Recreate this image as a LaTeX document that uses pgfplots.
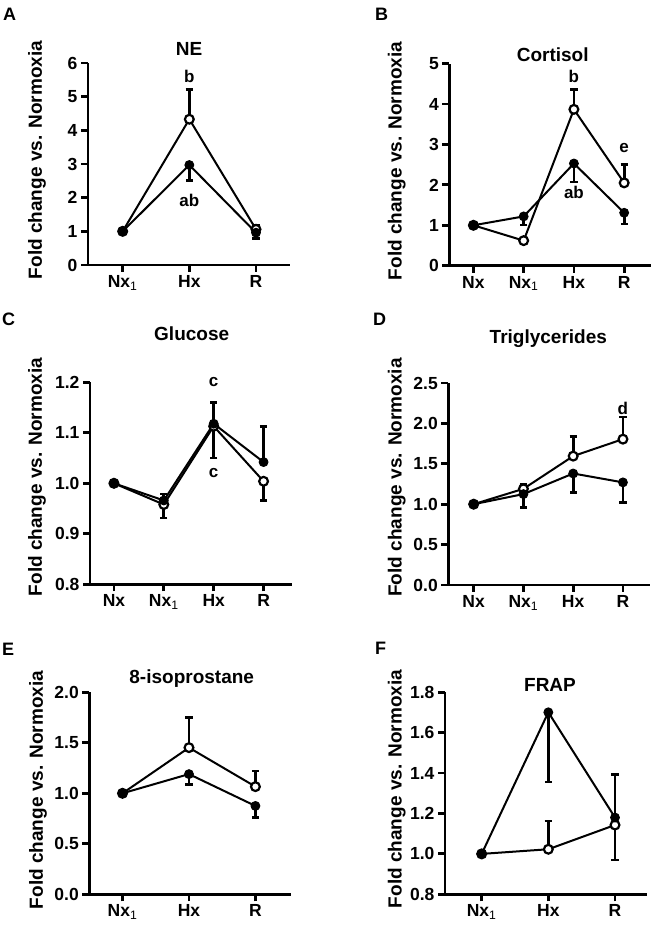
\documentclass[border=0pt]{standalone}
\usepackage{fontspec}
\setmainfont{Liberation Sans}
\usepackage{pgfplots}
\pgfplotsset{compat=1.18}

\newcommand{\tk}{\fontsize{17.5}{19}\selectfont\bfseries}
\newcommand{\NxI}{Nx\textsubscript{\mdseries 1}}

\pgfplotsset{
  panel/.style={
    scale only axis, width=202pt, height=202pt, anchor=south west,
    axis x line*=bottom, axis y line*=left,
    axis line style={line width=2.8pt},
    every tick/.style={line width=2.8pt, black},
    tick align=outside, major tick length=7pt,
    minor tick num=0, clip=false,
    ticklabel style={font=\tk},
    /pgf/number format/assume math mode=true,
  },
  onedec/.style={yticklabel style={/pgf/number format/.cd, fixed, fixed zerofill, precision=1}},
  three/.style={xtick={0,1,2}, xticklabels={\NxI,Hx,R}},
  four/.style={xtick={0,1,2,3}, xticklabels={Nx,\NxI,Hx,R}},
  ser/.style={black, line width=2pt, mark=*, mark size=4.4pt,
    error bars/y dir=both, error bars/y explicit,
    error bars/error bar style={line width=2.7pt},
    error bars/error mark options={rotate=90, mark size=3.6pt, line width=2.7pt, black}},
  op/.style={ser, mark options={fill=white, line width=2.2pt}},
  fi/.style={ser, mark options={fill=black, line width=1pt}},
}
\tikzset{lab/.style={font=\fontsize{17}{19}\selectfont\bfseries}}

\begin{document}
\begin{tikzpicture}[x=1pt,y=1pt]
\useasboundingbox (0,0) rectangle (653,927);

% A: NE
\begin{axis}[panel, three, at={(88pt,662pt)}, xmin=-0.52, xmax=2.51, ymin=0, ymax=6, ytick={0,1,...,6}]
\addplot[op] coordinates {(0,1) (1,4.33) += (0,0.88) -= (0,0) (2,1.06) += (0,0.12) -= (0,0)};
\addplot[fi] coordinates {(0,1) (1,2.97) += (0,0) -= (0,0.45) (2,0.96) += (0,0) -= (0,0.17)};
\node[lab] at (axis cs:1,5.6) {b};
\node[lab] at (axis cs:1,1.93) {ab};
\end{axis}

% B: Cortisol
\begin{axis}[panel, four, at={(449.3pt,661.3pt)}, xmin=-0.48, xmax=3.54, ymin=0, ymax=5, ytick={0,1,...,5}]
\addplot[op] coordinates {(0,1) (1,0.62) (2,3.87) += (0,0.49) -= (0,0) (3,2.05) += (0,0.46) -= (0,0)};
\addplot[fi] coordinates {(0,1) (1,1.22) += (0,0) -= (0,0.21) (2,2.53) += (0,0) -= (0,0.46) (3,1.31) += (0,0) -= (0,0.28)};
\node[lab] at (axis cs:2,4.68) {b};
\node[lab] at (axis cs:2,1.81) {ab};
\node[lab] at (axis cs:3,2.91) {e};
\end{axis}

% C: Glucose
\begin{axis}[panel, four, onedec, at={(90pt,342.7pt)}, xmin=-0.48, xmax=3.57, ymin=0.8, ymax=1.2, ytick={0.8,0.9,...,1.21}]
\addplot[op] coordinates {(0,1) (1,0.958) += (0,0) -= (0,0.027) (2,1.113) += (0,0) -= (0,0.063) (3,1.004) += (0,0) -= (0,0.038)};
\addplot[fi] coordinates {(0,1) (1,0.966) += (0,0.013) -= (0,0) (2,1.118) += (0,0.042) -= (0,0) (3,1.042) += (0,0.071) -= (0,0)};
\node[lab] at (axis cs:2,1.2) {c};
\node[lab] at (axis cs:2,1.02) {c};
\end{axis}

% D: Triglycerides
\begin{axis}[panel, four, onedec, at={(448.3pt,342pt)}, xmin=-0.51, xmax=3.55, ymin=0, ymax=2.5, ytick={0,0.5,...,2.5}]
\addplot[op] coordinates {(0,1) (1,1.19) += (0,0.06) -= (0,0) (2,1.595) += (0,0.24) -= (0,0) (3,1.805) += (0,0.275) -= (0,0)};
\addplot[fi] coordinates {(0,1) (1,1.125) += (0,0) -= (0,0.165) (2,1.38) += (0,0) -= (0,0.235) (3,1.27) += (0,0) -= (0,0.25)};
\node[lab] at (axis cs:3,2.18) {d};
\end{axis}

% E: 8-isoprostane
\begin{axis}[panel, three, onedec, at={(89.3pt,32.7pt)}, xmin=-0.5, xmax=2.54, ymin=0, ymax=2, ytick={0,0.5,...,2}]
\addplot[op] coordinates {(0,1) (1,1.452) += (0,0.30) -= (0,0) (2,1.066) += (0,0.155) -= (0,0)};
\addplot[fi] coordinates {(0,1) (1,1.19) += (0,0) -= (0,0.10) (2,0.875) += (0,0) -= (0,0.116)};
\end{axis}

% F: FRAP
\begin{axis}[panel, three, onedec, at={(445pt,32.7pt)}, xmin=-0.55, xmax=2.48, ymin=0.8, ymax=1.8, ytick={0.8,1.0,...,1.81}]
\addplot[op] coordinates {(0,1) (1,1.023) += (0,0.14) -= (0,0) (2,1.143) += (0,0) -= (0,0.173)};
\addplot[fi] coordinates {(0,1) (1,1.701) += (0,0) -= (0,0.345) (2,1.18) += (0,0.214) -= (0,0)};
\end{axis}

% titles and y labels
\begin{scope}[every node/.style={font=\fontsize{19}{21}\selectfont\bfseries}]
\node at (189,878) {NE};
\node at (552.7,872) {Cortisol};
\node at (191.7,593.7) {Glucose};
\node at (548.3,588.7) {Triglycerides};
\node at (191.7,248.7) {8-isoprostane};
\node at (550,242) {FRAP};
\node[rotate=90] at (37,767) {Fold change vs. Normoxia};
\node[rotate=90] at (396.7,766) {Fold change vs. Normoxia};
\node[rotate=90] at (37,450) {Fold change vs. Normoxia};
\node[rotate=90] at (396.7,449.5) {Fold change vs. Normoxia};
\node[rotate=90] at (38,137) {Fold change vs. Normoxia};
\node[rotate=90] at (396.7,138) {Fold change vs. Normoxia};
\end{scope}

% panel letters
\begin{scope}[every node/.style={font=\fontsize{18}{20}\selectfont\bfseries, anchor=north west, inner sep=0pt}]
\node at (3,919) {A};
\node at (375,919) {B};
\node at (2,614) {C};
\node at (373,614) {D};
\node at (2,284) {E};
\node at (375,285) {F};
\end{scope}
\end{tikzpicture}
\end{document}
